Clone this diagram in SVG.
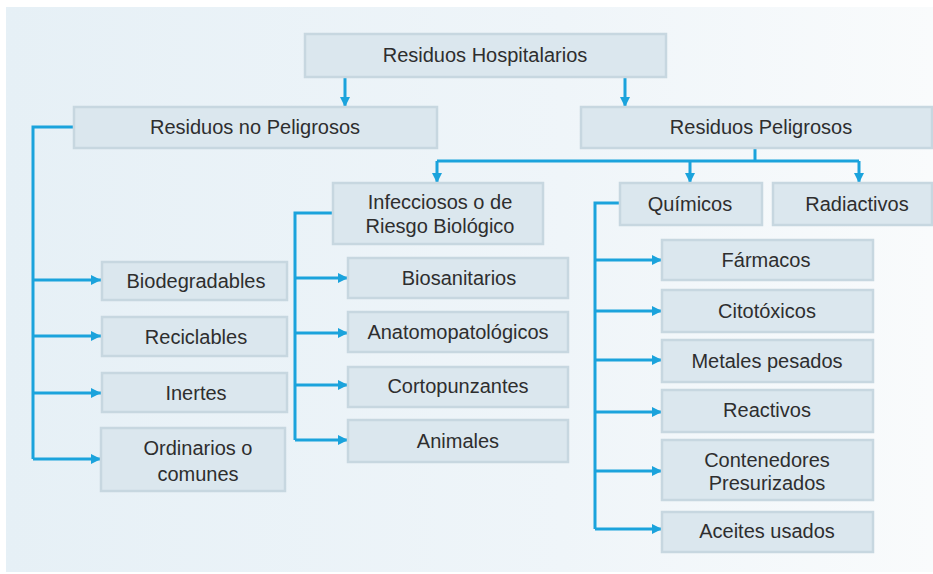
<svg xmlns="http://www.w3.org/2000/svg" width="933" height="574" viewBox="0 0 933 574">
<defs>
<linearGradient id="bg" x1="0" y1="0" x2="1" y2="0">
<stop offset="0" stop-color="#e6f0f6"/>
<stop offset="0.6" stop-color="#eff5f9"/>
<stop offset="1" stop-color="#f9fbfc"/>
</linearGradient>
<marker id="ah" viewBox="0 0 10 10" refX="10" refY="5" markerWidth="10" markerHeight="10" markerUnits="userSpaceOnUse" orient="auto">
<path d="M0,0 L10,5 L0,10 z" fill="#1ba3dc"/>
</marker>
<style>
.box{fill:#dbe7ee;stroke:#c7d7e0;stroke-width:2.5}
.t{font-family:"Liberation Sans",Arial,sans-serif;font-size:20px;fill:#2e2e2e;text-anchor:middle}
.c{fill:none;stroke:#1ba3dc;stroke-width:3}
.a{fill:none;stroke:#1ba3dc;stroke-width:3;marker-end:url(#ah)}
</style>
</defs>
<rect x="6" y="7" width="927" height="565" fill="url(#bg)"/>

<g id="connectors">
<path class="a" d="M345,77 V107"/>
<path class="a" d="M625,77 V107"/>
<path class="c" d="M755,148 V161 M437,161 H859"/>
<path class="a" d="M437,161 V183"/>
<path class="a" d="M690,161 V183"/>
<path class="a" d="M859,161 V183"/>
<path class="c" d="M74,127 H33 V459"/>
<path class="a" d="M33,280 H101"/>
<path class="a" d="M33,336 H101"/>
<path class="a" d="M33,393 H101"/>
<path class="a" d="M33,459 H101"/>
<path class="c" d="M333,213 H295 V440"/>
<path class="a" d="M295,278 H348"/>
<path class="a" d="M295,333 H348"/>
<path class="a" d="M295,385 H348"/>
<path class="a" d="M295,440 H348"/>
<path class="c" d="M620,203 H595 V529"/>
<path class="a" d="M595,260 H662"/>
<path class="a" d="M595,311 H662"/>
<path class="a" d="M595,360 H662"/>
<path class="a" d="M595,412 H662"/>
<path class="a" d="M595,471 H662"/>
<path class="a" d="M595,529 H662"/>
</g>

<g id="n-hosp"><rect class="box" x="305" y="34" width="361" height="43"/><text class="t" x="485" y="62">Residuos Hospitalarios</text></g>
<g id="n-nopel"><rect class="box" x="74" y="107" width="363" height="41"/><text class="t" x="255" y="134">Residuos no Peligrosos</text></g>
<g id="n-pel"><rect class="box" x="581" y="107" width="351" height="41"/><text class="t" x="761" y="134">Residuos Peligrosos</text></g>

<g id="n-bio"><rect class="box" x="102" y="262" width="185" height="38"/><text class="t" x="196" y="288">Biodegradables</text></g>
<g id="n-rec"><rect class="box" x="102" y="317" width="185" height="39"/><text class="t" x="196" y="344">Reciclables</text></g>
<g id="n-ine"><rect class="box" x="102" y="373" width="185" height="39"/><text class="t" x="196" y="400">Inertes</text></g>
<g id="n-ord"><rect class="box" x="101" y="428" width="184" height="63"/><text class="t" x="198" y="455">Ordinarios o</text><text class="t" x="198" y="481">comunes</text></g>

<g id="n-inf"><rect class="box" x="333" y="183" width="210" height="61"/><text class="t" x="440" y="209">Infecciosos o de</text><text class="t" x="440" y="233">Riesgo Biológico</text></g>
<g id="n-biosan"><rect class="box" x="348" y="258" width="220" height="40"/><text class="t" x="459" y="285">Biosanitarios</text></g>
<g id="n-anat"><rect class="box" x="348" y="312" width="220" height="40"/><text class="t" x="458" y="339">Anatomopatológicos</text></g>
<g id="n-cort"><rect class="box" x="348" y="367" width="220" height="40"/><text class="t" x="458" y="393">Cortopunzantes</text></g>
<g id="n-anim"><rect class="box" x="348" y="420" width="220" height="42"/><text class="t" x="458" y="448">Animales</text></g>

<g id="n-quim"><rect class="box" x="620" y="183" width="142" height="42"/><text class="t" x="690" y="211">Químicos</text></g>
<g id="n-rad"><rect class="box" x="773" y="183" width="159" height="42"/><text class="t" x="857" y="211">Radiactivos</text></g>
<g id="n-farm"><rect class="box" x="662" y="240" width="211" height="40"/><text class="t" x="766" y="267">Fármacos</text></g>
<g id="n-cito"><rect class="box" x="662" y="290" width="211" height="42"/><text class="t" x="767" y="318">Citotóxicos</text></g>
<g id="n-met"><rect class="box" x="662" y="340" width="211" height="42"/><text class="t" x="767" y="368">Metales pesados</text></g>
<g id="n-reac"><rect class="box" x="662" y="390" width="211" height="42"/><text class="t" x="767" y="417">Reactivos</text></g>
<g id="n-cont"><rect class="box" x="662" y="440" width="211" height="60"/><text class="t" x="767" y="467">Contenedores</text><text class="t" x="767" y="490">Presurizados</text></g>
<g id="n-ace"><rect class="box" x="662" y="512" width="211" height="40"/><text class="t" x="767" y="538">Aceites usados</text></g>
</svg>
